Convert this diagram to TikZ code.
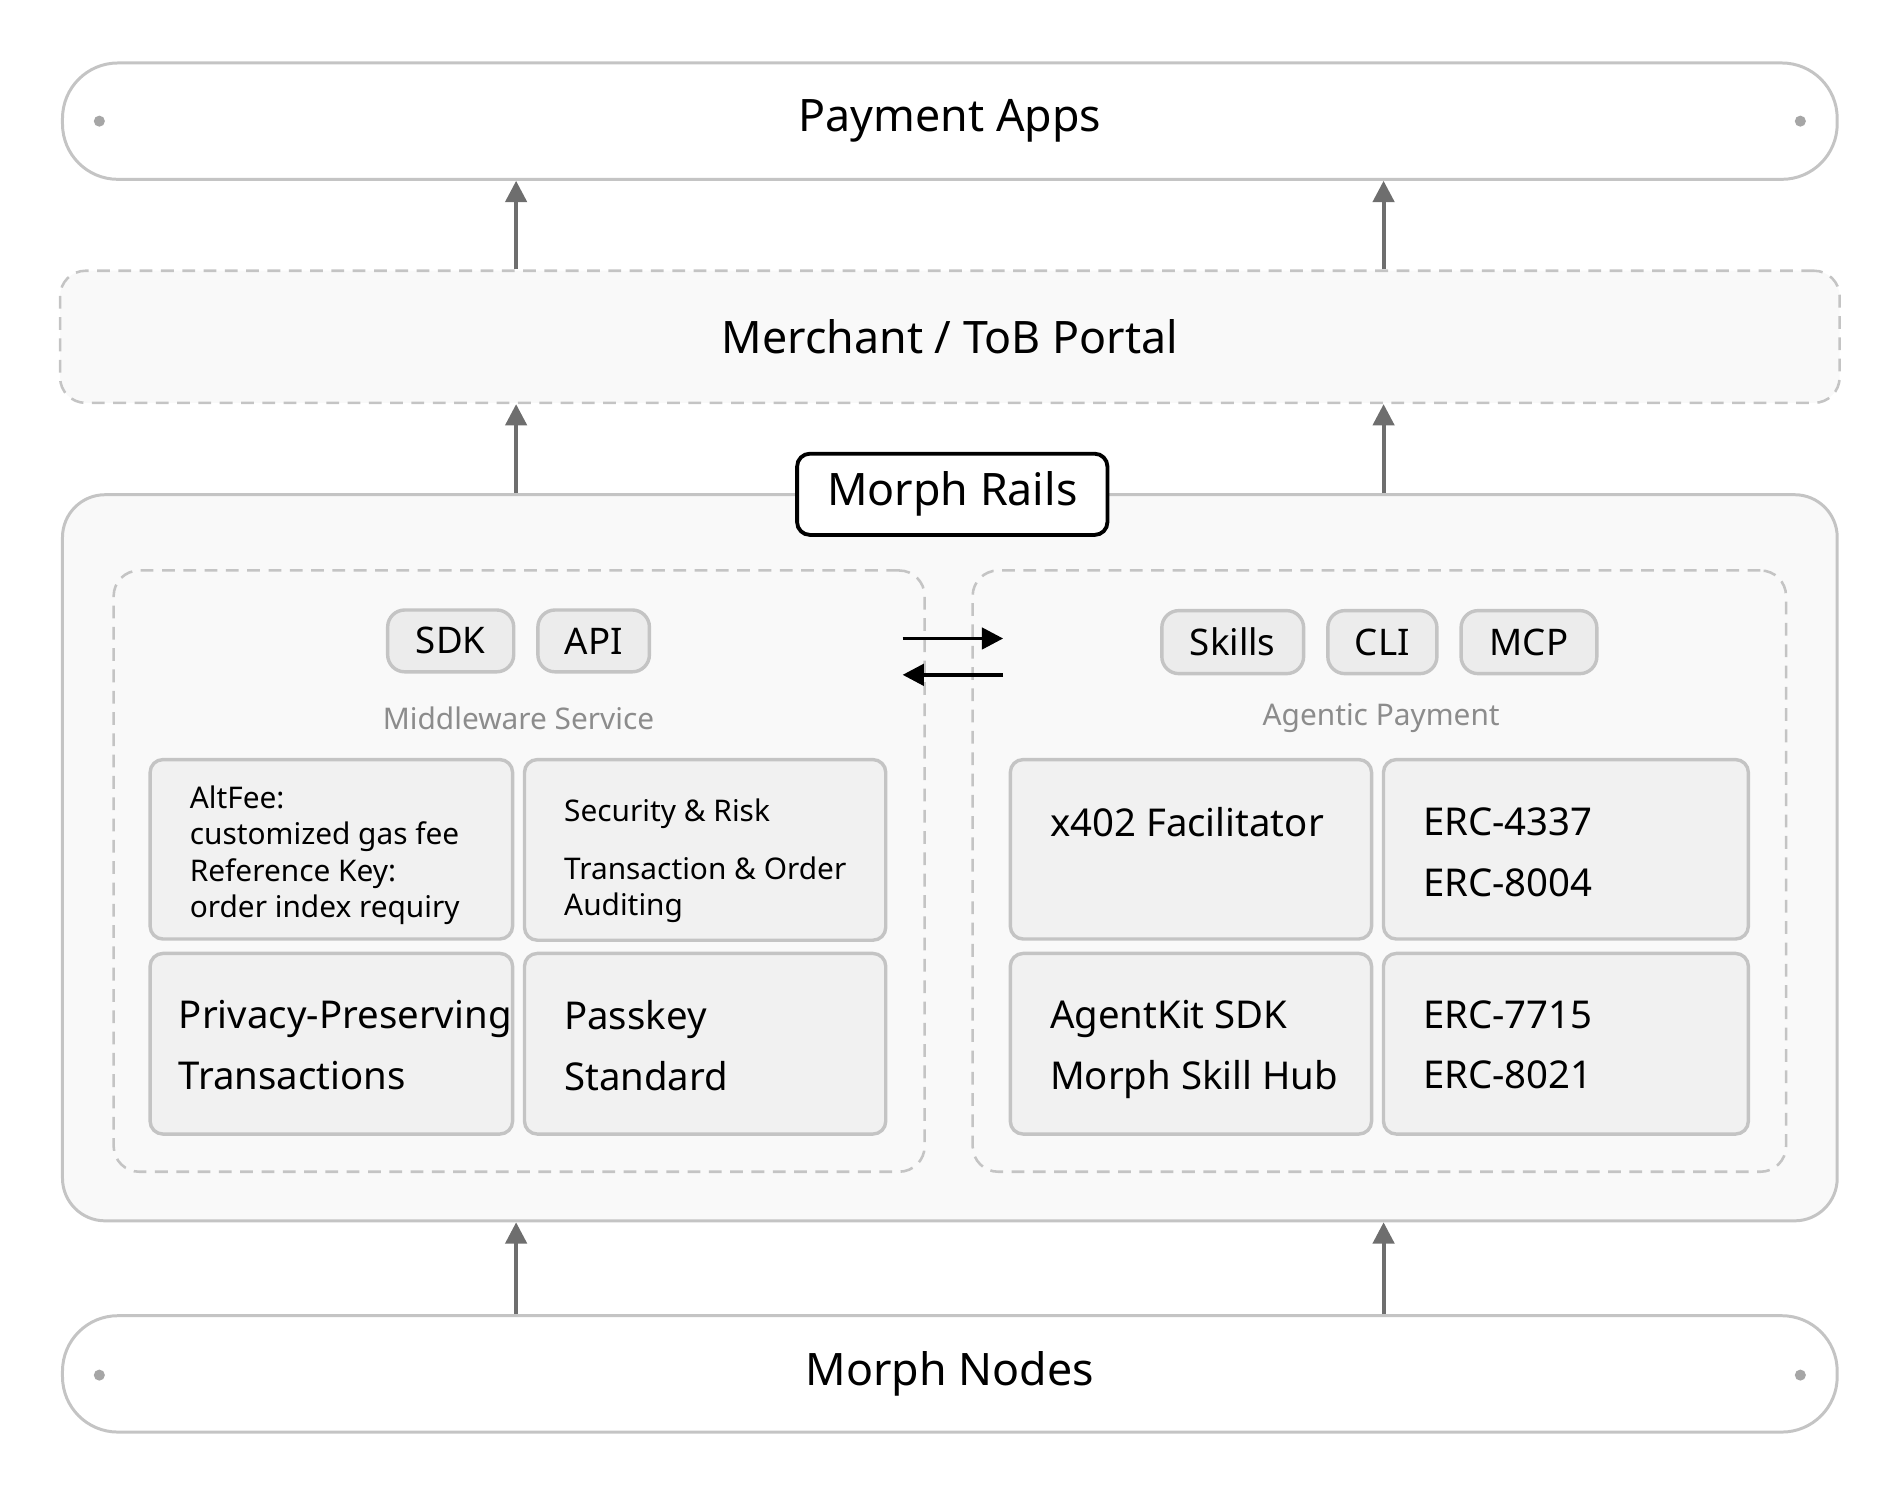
\documentclass[tikz,border=0pt]{standalone}
\usepackage{fontspec}
\setmainfont{Noto Sans}
\usetikzlibrary{positioning, arrows.meta, calc}
\definecolor{edge}{HTML}{C4C4C4}
\definecolor{pale}{HTML}{F9F9F9}
\definecolor{cellfill}{HTML}{F1F1F1}
\definecolor{pillfill}{HTML}{ECECEC}
\definecolor{arrowgray}{HTML}{6E6E6E}
\tikzset{
  layer/.style={draw=edge, line width=0.7pt, fill=white, rounded corners=13pt, inner sep=0pt},
  dashbox/.style={draw=edge, line width=0.6pt, dash pattern=on 3pt off 2pt, rounded corners=6pt, inner sep=0pt},
  cell/.style={draw=edge, line width=0.8pt, fill=cellfill, rounded corners=3pt, inner sep=0pt},
  pill/.style={draw=edge, line width=0.8pt, fill=pillfill, rounded corners=4pt, inner sep=0pt, font=\fontsize{8.6}{10}\selectfont},
  title/.style={font=\fontsize{10.5}{12}\selectfont\bfseries},
  caption/.style={text=black!45, font=\fontsize{7}{9}\selectfont},
  small/.style={anchor=north west, inner sep=0pt, align=left, font=\fontsize{7}{8.5}\selectfont},
  big/.style={anchor=north west, inner sep=0pt, align=left, font=\fontsize{9}{14.2}\selectfont},
  dot/.style={circle, fill=black!35, inner sep=0pt, minimum size=2.6pt},
  up/.style={draw=arrowgray, line width=0.9pt, -{Triangle[length=5pt, width=5pt]}},
  swap/.style={draw=black, line width=0.9pt, -{Triangle[length=5pt, width=5pt]}},
}
\begin{document}
\begin{tikzpicture}[x=0.01cm, y=-0.01cm]
  \useasboundingbox (0,0) rectangle (1560,1227);
  % Layers
  \node[layer, minimum width=14.64cm, minimum height=0.96cm] (pay) at (784,100) {};
  \node[title] (payt) at (pay) {Payment Apps};
  \node[dashbox, fill=pale, minimum width=14.68cm, minimum height=1.09cm] (mer) at (784,278) {};
  \node[title] (mert) at (mer) {Merchant / ToB Portal};
  \node[layer, fill=pale, rounded corners=10pt, minimum width=14.64cm, minimum height=5.99cm] (rails) at (784,708) {};
  \node[layer, minimum width=14.64cm, minimum height=0.96cm] (nodes) at (784,1134) {};
  \node[title] (nodest) at (nodes) {Morph Nodes};
  \node[draw=black, line width=0.9pt, fill=white, rounded corners=3pt, minimum width=2.56cm, minimum height=0.67cm, title] (railst) at (786,408) {Morph Rails};

  % Dots
  \node[dot] (d1) at (82,100) {};
  \node[dot] (d2) at (1486,100) {};
  \node[dot] (d3) at (82,1135) {};
  \node[dot] (d4) at (1486,1135) {};

  % Groups
  \node[dashbox, minimum width=6.69cm, minimum height=4.96cm] (mid) at (428.5,719) {};
  \node[dashbox, minimum width=6.71cm, minimum height=4.96cm] (agt) at (1138.5,719) {};
  \node[pill, minimum width=1.04cm, minimum height=0.51cm] (sdk) at (372,529) {SDK};
  \node[pill, minimum width=0.92cm, minimum height=0.51cm] (api) at (490,529) {API};
  \node[caption] (midt) at (428,593) {Middleware Service};
  \node[pill, minimum width=1.17cm, minimum height=0.52cm] (skills) at (1017.5,530) {Skills};
  \node[pill, minimum width=0.90cm, minimum height=0.52cm] (cli) at (1141,530) {CLI};
  \node[pill, minimum width=1.12cm, minimum height=0.52cm] (mcp) at (1262,530) {MCP};
  \node[caption] (agtt) at (1140,593) {Agentic Payment};

  % Cells
  \node[cell, minimum width=2.99cm, minimum height=1.48cm] (altfee) at (273.5,701) {};
  \node[cell, minimum width=2.98cm, minimum height=1.49cm] (risk) at (582,701.5) {};
  \node[cell, minimum width=2.99cm, minimum height=1.49cm] (privacy) at (273.5,861.5) {};
  \node[cell, minimum width=2.98cm, minimum height=1.49cm] (passkey) at (582,861.5) {};
  \node[cell, minimum width=2.98cm, minimum height=1.48cm] (x402) at (983,701) {};
  \node[cell, minimum width=3.01cm, minimum height=1.48cm] (erca) at (1292.5,701) {};
  \node[cell, minimum width=2.98cm, minimum height=1.49cm] (agentkit) at (983,861.5) {};
  \node[cell, minimum width=3.01cm, minimum height=1.49cm] (ercb) at (1292.5,861.5) {};
  \node[small] (altfeet) at (156,648) {AltFee:\\customized gas fee\\Reference Key:\\order index requiry};
  \node[small] (riskt) at (465,659) {Security \& Risk\\[5pt]Transaction \& Order\\Auditing};
  \node[big] (privacyt) at (147,825) {Privacy-Preserving\\Transactions};
  \node[big] (passkeyt) at (465,825) {Passkey\\Standard};
  \node[big] (x402t) at (866,666) {x402 Facilitator};
  \node[big] (ercat) at (1174,666) {ERC-4337\\ERC-8004};
  \node[big] (agentkitt) at (866,825) {AgentKit SDK\\Morph Skill Hub};
  \node[big] (ercbt) at (1174,825) {ERC-7715\\ERC-8021};

  % Arrows
  \coordinate (cl) at (426,0);
  \coordinate (cr) at (1142,0);
  \coordinate (sl) at (745,527);
  \coordinate (sr) at (828,557);
  \draw[up] (mer.north -| cl) -- (pay.south -| cl);
  \draw[up] (mer.north -| cr) -- (pay.south -| cr);
  \draw[up] (rails.north -| cl) -- (mer.south -| cl);
  \draw[up] (rails.north -| cr) -- (mer.south -| cr);
  \draw[up] (nodes.north -| cl) -- (rails.south -| cl);
  \draw[up] (nodes.north -| cr) -- (rails.south -| cr);
  \draw[swap] (sl) -- (sl -| sr);
  \draw[swap] (sr) -- (sr -| sl);
\end{tikzpicture}
\end{document}
